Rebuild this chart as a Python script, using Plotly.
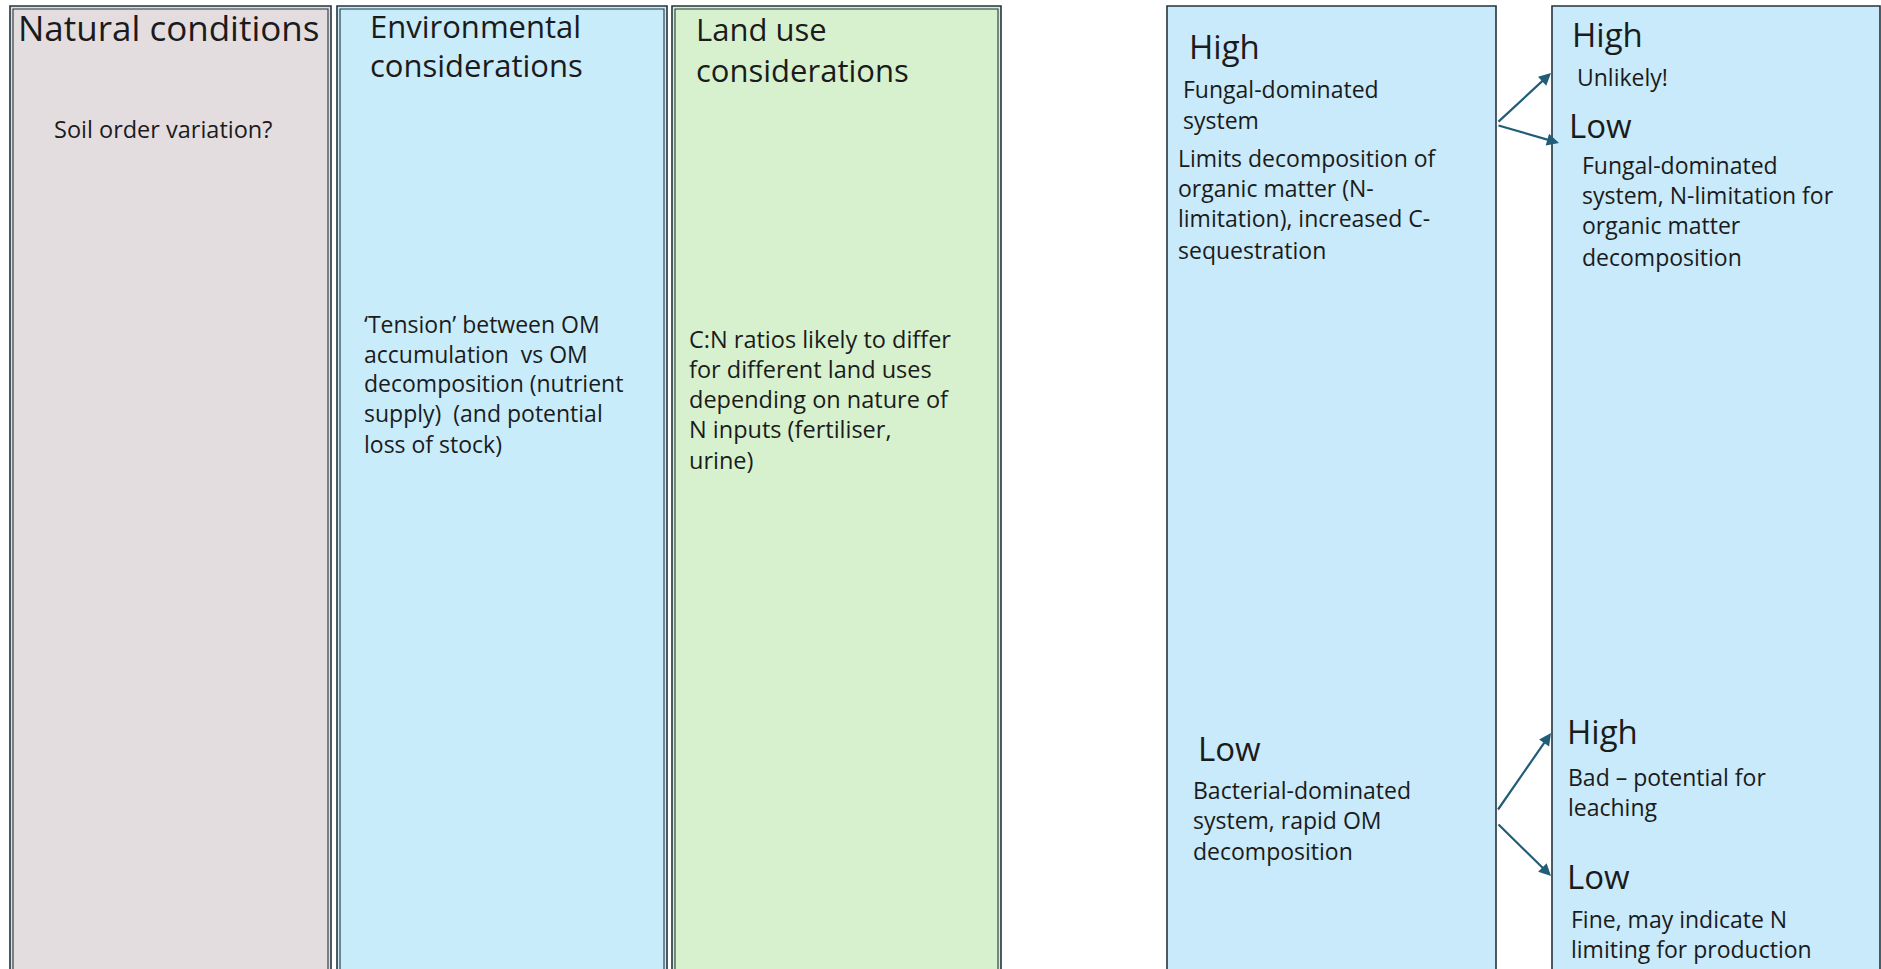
import plotly.graph_objects as go

W, H = 1881, 969
FONT = "Open Sans"
TXT = "#1b1b1b"

# ---------------- content ----------------
column_titles = [["Natural conditions"],
                 ["Environmental", "considerations"],
                 ["Land use", "considerations"]]
column_notes = [["Soil order variation?"],
                ["\u2018Tension\u2019 between OM", "accumulation  vs OM",
                 "decomposition (nutrient", "supply)  (and potential", "loss of stock)"],
                ["C:N ratios likely to differ", "for different land uses",
                 "depending on nature of", "N inputs (fertiliser,", "urine)"]]

cn_levels = ["High", "Low"]
cn_notes = [["Fungal-dominated", "system", "Limits decomposition of",
             "organic matter (N-", "limitation), increased C-", "sequestration"],
            ["Bacterial-dominated", "system, rapid OM", "decomposition"]]

second_levels = ["High", "Low", "High", "Low"]
second_notes = [["Unlikely!"],
                ["Fungal-dominated", "system, N-limitation for", "organic matter", "decomposition"],
                ["Bad \u2013 potential for", "leaching"],
                ["Fine, may indicate N", "limiting for production"]]

# ---------------- layout geometry (pixels) ----------------
boxes = [  # x0, x1, fill, double border
    (10, 331, "#e4dde0", True),
    (337, 667, "#c9ecfb", True),
    (672, 1001, "#d7f1cf", True),
    (1167, 1496, "#c8eafa", False),
    (1552, 1880, "#c8eafa", False),
]
BORDER = "#25343e"
ARROW = "#215d79"

fig = go.Figure()
shapes = []
for x0, x1, fill, dbl in boxes:
    shapes.append(dict(type="rect", xref="x", yref="y", x0=x0, x1=x1, y0=6, y1=H + 20,
                       fillcolor=fill, line=dict(color=BORDER, width=1.6), layer="below"))
    if dbl:
        shapes.append(dict(type="rect", xref="x", yref="y", x0=x0 + 3, x1=x1 - 3, y0=9, y1=H + 20,
                           fillcolor="rgba(0,0,0,0)", line=dict(color=BORDER, width=1.1), layer="below"))

annotations = []


def add_line(text, x, baseline, size):
    annotations.append(dict(text=text, x=x, y=baseline - 0.36 * size, xref="x", yref="y",
                            xanchor="left", yanchor="middle", showarrow=False, align="left",
                            font=dict(family=FONT, size=size, color=TXT)))


def add_block(lines, x, baselines, size):
    for t, b in zip(lines, baselines):
        add_line(t, x, b, size)


# column titles / notes
add_block(column_titles[0], 16, [40], 35)
add_block(column_titles[1], 368, [37, 76], 31)
add_block(column_titles[2], 694, [40, 81], 31)
add_block(column_notes[0], 52, [137], 23.5)
add_block(column_notes[1], 362, [332, 362, 391, 421, 452], 23)
add_block(column_notes[2], 687, [347, 377, 407, 437, 468], 23.5)

# C:N box
add_block([cn_levels[0]], 1187, [58], 33)
add_block(cn_notes[0][:2], 1181, [97, 128], 23)
add_block(cn_notes[0][2:], 1176, [166, 196, 226, 258], 23)
add_block([cn_levels[1]], 1196, [760], 33)
add_block(cn_notes[1], 1191, [798, 828, 859], 23)

# second box
add_block([second_levels[0]], 1570, [46], 33)
add_block(second_notes[0], 1575, [85], 23)
add_block([second_levels[1]], 1567, [137], 33)
add_block(second_notes[1], 1580, [173, 203, 233, 265], 23)
add_block([second_levels[2]], 1565, [743], 33)
add_block(second_notes[2], 1566, [785, 815], 23)
add_block([second_levels[3]], 1565, [888], 33)
add_block(second_notes[3], 1569, [927, 957], 23)

# arrows (tail -> head)
arrows = [((1497, 123), (1551, 73)),
          ((1497, 125), (1559, 143)),
          ((1497, 811), (1551, 733)),
          ((1497, 823), (1551, 876))]
for (tx, ty), (hx, hy) in arrows:
    annotations.append(dict(x=hx, y=hy, ax=tx, ay=ty, xref="x", yref="y", axref="x", ayref="y",
                            text="", showarrow=True, arrowhead=2, arrowsize=1.1, arrowwidth=2.2,
                            arrowcolor=ARROW, standoff=0, startstandoff=0))

fig.update_layout(
    width=W, height=H, margin=dict(l=0, r=0, t=0, b=0),
    paper_bgcolor="white", plot_bgcolor="white",
    xaxis=dict(range=[0, W], visible=False, fixedrange=True),
    yaxis=dict(range=[H, 0], visible=False, fixedrange=True),
    shapes=shapes, annotations=annotations, showlegend=False,
)
fig.write_html("out.html", config={"displayModeBar": False},
               post_script="document.body.style.margin='0';document.body.style.overflow='hidden';")
